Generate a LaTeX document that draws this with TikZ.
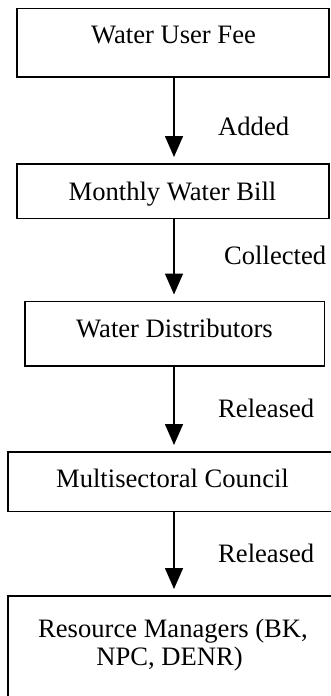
\documentclass[tikz,border=0pt]{standalone}
\usepackage{fontspec}
\setmainfont{Liberation Serif}
\usetikzlibrary{arrows.meta}
\begin{document}
\begin{tikzpicture}[x=1pt,y=-1pt,
  box/.style={draw,line width=1.6pt,inner sep=0pt,anchor=north west},
  boxtext/.style={inner sep=0pt,anchor=base,font=\fontsize{26.6}{31}\selectfont},
  lab/.style={inner sep=0pt,anchor=base west,font=\fontsize{26.6}{31}\selectfont},
  flow/.style={line width=1.6pt,-{Triangle[width=18pt,length=21pt]},shorten >=6pt}]
\useasboundingbox (0,0) rectangle (331,696);
\clip (0,0) rectangle (331,696);
\node[box,minimum width=312pt,minimum height=68.5pt] (b1) at (16,7.5) {};
\node[box,minimum width=312pt,minimum height=54.5pt] (b2) at (16,163) {};
\node[box,minimum width=299.5pt,minimum height=64.5pt] (b3) at (24,300.5) {};
\node[box,minimum width=340pt,minimum height=59.5pt] (b4) at (7,451) {};
\node[box,minimum width=340pt,minimum height=120pt] (b5) at (7,595) {};
\node[boxtext] (t1) at (173.5,43) {Water User Fee};
\node[boxtext] (t2) at (172.5,200) {Monthly Water Bill};
\node[boxtext] (t3) at (174.5,337) {Water Distributors};
\node[boxtext] (t4) at (172.5,487) {Multisectoral Council};
\node[boxtext] (t5a) at (173,637) {Resource Managers (BK,};
\node[boxtext] (t5b) at (169.5,665) {NPC, DENR)};
\coordinate (ax) at (174,0);
\draw[flow] (ax |- b1.south) -- (ax |- b2.north);
\draw[flow] (ax |- b2.south) -- (ax |- b3.north);
\draw[flow] (ax |- b3.south) -- (ax |- b4.north);
\draw[flow] (ax |- b4.south) -- (ax |- b5.north);
\node[lab] (l1) at (218,135) {Added};
\node[lab] (l2) at (224,264) {Collected};
\node[lab] (l3) at (218,417) {Released};
\node[lab] (l4) at (218,562) {Released};
\end{tikzpicture}
\end{document}
